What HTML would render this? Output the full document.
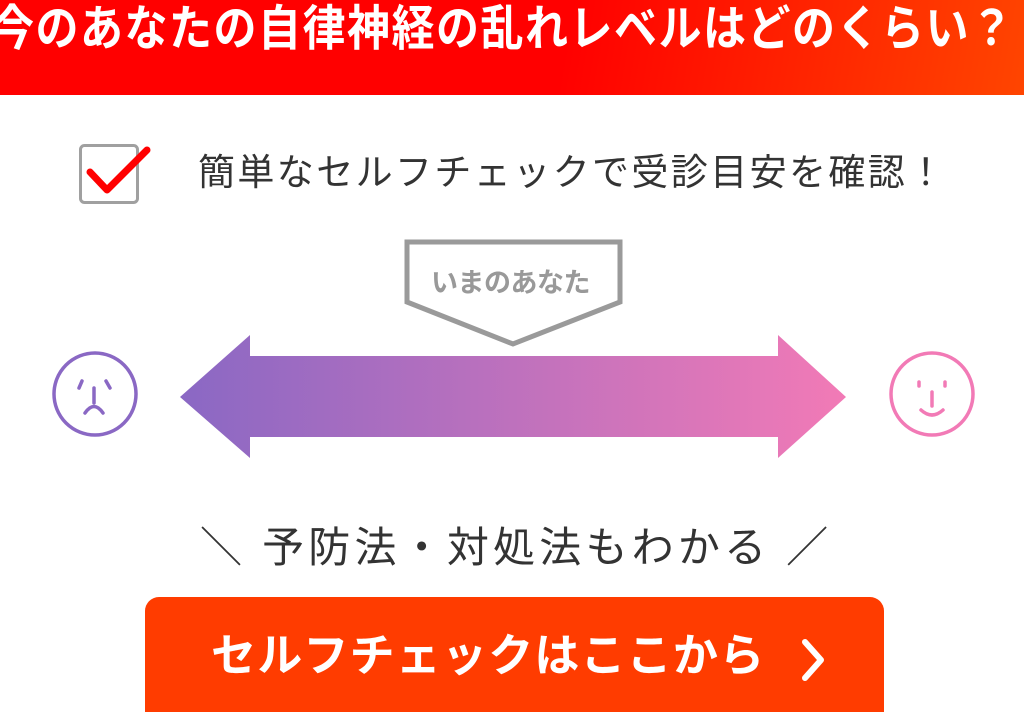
<!DOCTYPE html>
<html><head><meta charset="utf-8"><style>
html,body{margin:0;padding:0;background:#fff;width:1024px;height:712px;overflow:hidden;position:relative}
.t{position:absolute;white-space:nowrap;font-family:"Liberation Sans","Noto Sans CJK JP",sans-serif;line-height:1}
#hdr{position:absolute;left:0;top:0;width:1024px;height:95px;background:linear-gradient(100deg,#ff0000 0%,#ff0000 55%,#ff4500 100%)}
#btn{position:absolute;left:145px;top:597px;width:739px;height:140px;border-radius:14px;background:#ff3c00}
</style></head><body>
<div id="hdr"></div>
<div class="t" style="left:-9px;top:6px;font-size:43px;color:#fff;font-weight:bold;letter-spacing:1.5px;transform:scaleY(1.12);transform-origin:0 0">今のあなたの自律神経の乱れレベルはどのくらい？</div>

<svg style="position:absolute;left:0;top:0" width="1024" height="712">
<defs>
<linearGradient id="g" x1="0" x2="1" y1="0" y2="0">
<stop offset="0" stop-color="#8a68c4"/><stop offset="1" stop-color="#f27ab6"/></linearGradient>
</defs>
<rect x="80.5" y="145.5" width="57" height="57" rx="4" fill="none" stroke="#a0a0a0" stroke-width="3"/>
<polyline points="90,172 107,190 147,150" fill="none" stroke="#ff0000" stroke-width="7" stroke-linecap="round" stroke-linejoin="round"/>
<polygon points="407,242 620,242 620,302 513,344 407,302" fill="#fff" stroke="#9a9a9a" stroke-width="5"/>
<polygon points="180,397 250,335 250,356 778,356 778,335 846,397 778,458 778,437 250,437 250,458" fill="url(#g)"/>
<ellipse cx="95" cy="394" rx="41" ry="41" fill="none" stroke="#8a68c4" stroke-width="3.5"/>
<g stroke="#8a68c4" stroke-width="3.5" stroke-linecap="round" fill="none">
<line x1="82" y1="381" x2="79" y2="388"/><line x1="106" y1="381" x2="110" y2="388"/>
<line x1="94" y1="388" x2="94" y2="403"/><path d="M85 413 Q94 400 103 413"/></g>
<ellipse cx="932" cy="394" rx="41" ry="41" fill="none" stroke="#f27ab6" stroke-width="3.5"/>
<g stroke="#f27ab6" stroke-width="3.5" stroke-linecap="round" fill="none">
<line x1="919" y1="382" x2="919" y2="386"/><line x1="945" y1="382" x2="945" y2="386"/>
<line x1="932" y1="392" x2="932" y2="406"/><path d="M921 410 Q932 420 943 410"/></g>
</svg>

<div class="t" style="left:198px;top:154px;font-size:37px;color:#333;letter-spacing:2.4px">簡単なセルフチェックで受診目安を確認！</div>
<div class="t" style="left:431px;top:270px;font-size:27px;color:#999;font-weight:bold;letter-spacing:-0.5px">いまのあなた</div>
<div class="t" style="left:200px;top:527px;font-size:42px;color:#333;letter-spacing:4.2px">＼ 予防法・対処法もわかる ／</div>
<div id="btn"></div>
<div class="t" style="left:211px;top:633px;font-size:45px;color:#fff;font-weight:bold;letter-spacing:1.2px">セルフチェックはここから</div>
<svg style="position:absolute;left:795px;top:638px" width="40" height="45"><polyline points="10,4 26,22 10,40" fill="none" stroke="#fff" stroke-width="6" stroke-linecap="round" stroke-linejoin="round"/></svg>
</body></html>
